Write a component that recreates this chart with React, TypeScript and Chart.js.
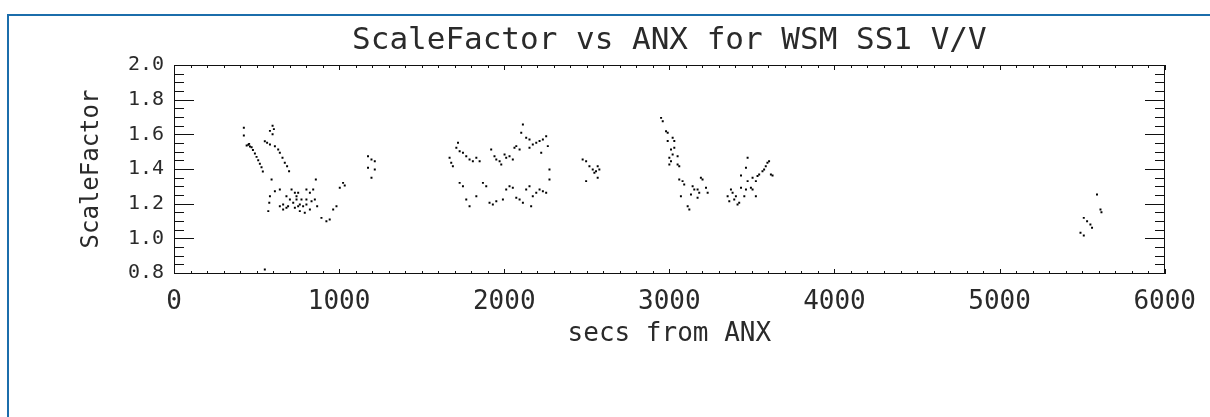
import { useEffect, useRef } from "react";
import { Chart, registerables } from "chart.js";

Chart.register(...registerables);

// ---- data (secs from ANX, ScaleFactor), grouped by pass ----
const passA_x = [423, 423, 440, 450, 460, 470, 455, 478, 490, 500, 510, 520, 530, 538, 597, 605, 581, 597, 550, 564, 581, 611, 631, 641, 657, 671, 685, 697, 591, 611, 581, 577, 571, 641, 661, 681, 702, 712, 732, 742, 752, 762, 782, 802, 823, 843, 859, 853, 867, 823, 792, 893, 923, 943, 964, 984, 1004, 1024, 1034, 661, 691, 722, 732, 762, 742, 772, 802, 833, 681, 641, 802, 752, 550];
const passA_y = [1.638, 1.593, 1.535, 1.54, 1.53, 1.525, 1.545, 1.51, 1.49, 1.47, 1.45, 1.43, 1.41, 1.385, 1.65, 1.63, 1.62, 1.6, 1.56, 1.551, 1.541, 1.531, 1.513, 1.494, 1.465, 1.436, 1.416, 1.387, 1.339, 1.272, 1.243, 1.205, 1.157, 1.185, 1.166, 1.176, 1.224, 1.282, 1.263, 1.224, 1.185, 1.157, 1.185, 1.224, 1.263, 1.282, 1.339, 1.224, 1.185, 1.166, 1.147, 1.118, 1.099, 1.109, 1.166, 1.185, 1.292, 1.32, 1.305, 1.195, 1.185, 1.205, 1.176, 1.195, 1.243, 1.224, 1.195, 1.214, 1.243, 1.282, 1.282, 1.263, 0.82];

const passB_x = [1175, 1196, 1216, 1175, 1216, 1196];
const passB_y = [1.474, 1.455, 1.445, 1.407, 1.397, 1.349];

const passC_x = [1720, 1710, 1730, 1750, 1770, 1790, 1810, 1831, 1851, 1669, 1679, 1689, 1921, 1941, 1952, 1972, 1982, 2002, 2012, 2032, 2052, 2062, 2073, 2093, 2103, 2113, 2133, 2153, 2173, 2194, 2214, 2234, 2254, 2264, 2224, 2153, 2274, 2274, 1730, 1750, 1770, 1790, 1831, 1871, 1891, 1911, 1931, 1952, 1992, 2012, 2032, 2052, 2073, 2093, 2113, 2133, 2153, 2173, 2194, 2214, 2234, 2254, 2163];
const passC_y = [1.551, 1.522, 1.503, 1.494, 1.474, 1.455, 1.445, 1.465, 1.445, 1.465, 1.436, 1.416, 1.513, 1.474, 1.455, 1.445, 1.426, 1.484, 1.465, 1.474, 1.455, 1.522, 1.532, 1.513, 1.609, 1.657, 1.58, 1.57, 1.541, 1.551, 1.561, 1.57, 1.589, 1.532, 1.494, 1.522, 1.397, 1.339, 1.32, 1.301, 1.224, 1.185, 1.243, 1.32, 1.301, 1.205, 1.195, 1.214, 1.224, 1.282, 1.301, 1.292, 1.234, 1.224, 1.205, 1.282, 1.301, 1.243, 1.263, 1.282, 1.272, 1.263, 1.185];

const passD_x = [2475, 2496, 2516, 2536, 2556, 2566, 2576, 2566, 2496, 2546];
const passD_y = [1.455, 1.445, 1.416, 1.397, 1.387, 1.416, 1.397, 1.349, 1.33, 1.378];

const passE_x = [2950, 2960, 2980, 2990, 2990, 3020, 3030, 3010, 3030, 3020, 3050, 3000, 3010, 3000, 3050, 3060, 3060, 3080, 3090, 3141, 3151, 3131, 3171, 3181, 3191, 3201, 3222, 3232, 3171, 3070, 3111, 3121];
const passE_y = [1.695, 1.676, 1.618, 1.609, 1.561, 1.58, 1.561, 1.513, 1.522, 1.484, 1.474, 1.465, 1.445, 1.426, 1.426, 1.416, 1.339, 1.33, 1.311, 1.301, 1.282, 1.253, 1.282, 1.263, 1.349, 1.339, 1.292, 1.263, 1.234, 1.243, 1.185, 1.166];

const passF_x = [3353, 3373, 3383, 3393, 3403, 3413, 3423, 3363, 3434, 3454, 3464, 3474, 3494, 3504, 3524, 3504, 3524, 3534, 3544, 3564, 3574, 3584, 3594, 3604, 3615, 3625, 3474, 3464, 3434];
const passF_y = [1.243, 1.282, 1.263, 1.224, 1.243, 1.195, 1.205, 1.214, 1.292, 1.243, 1.282, 1.33, 1.292, 1.282, 1.243, 1.349, 1.33, 1.359, 1.368, 1.387, 1.397, 1.416, 1.436, 1.445, 1.368, 1.362, 1.465, 1.407, 1.362];

const passG_x = [5590, 5611, 5617, 5510, 5530, 5550, 5560, 5490, 5510];
const passG_y = [1.253, 1.166, 1.151, 1.118, 1.099, 1.08, 1.061, 1.032, 1.016];

const X_TICKS = [0, 1000, 2000, 3000, 4000, 5000, 6000];
const Y_TICKS = [0.8, 1.0, 1.2, 1.4, 1.6, 1.8, 2.0];
const X_MINOR_PER_MAJOR = 10;
const Y_MINOR_PER_MAJOR = 4;

const TITLE = "ScaleFactor vs ANX for WSM SS1 V/V";
const X_TITLE = "secs from ANX";
const Y_TITLE = "ScaleFactor";

const FONT = '"DejaVu Sans Mono", "DejaVu Sans", monospace';
const INK = "#2a2a2a";

const xs = [...passA_x, ...passB_x, ...passC_x, ...passD_x, ...passE_x, ...passF_x, ...passG_x];
const ys = [...passA_y, ...passB_y, ...passC_y, ...passD_y, ...passE_y, ...passF_y, ...passG_y];

const idlFrame = {
  id: "idlFrame",
  beforeDraw(chart: any) {
    const ctx = chart.ctx;
    ctx.save();
    ctx.fillStyle = "#ffffff";
    ctx.fillRect(0, 0, chart.width, chart.height);
    ctx.fillStyle = "#1b6dab";
    ctx.fillRect(7, 14, chart.width - 7, 2);
    ctx.fillRect(7, 14, 2, chart.height - 14);
    ctx.restore();
  },
  afterDraw(chart: any) {
    const ctx = chart.ctx;
    const ca = chart.chartArea;
    const L = Math.round(ca.left);
    const R = Math.round(ca.right) - 1;
    const T = Math.round(ca.top);
    const B = Math.round(ca.bottom);
    const sx = chart.scales.x;
    const sy = chart.scales.y;
    ctx.save();
    ctx.fillStyle = "#111111";
    // box
    ctx.fillRect(L, T, R - L + 1, 1);
    ctx.fillRect(L, B, R - L + 1, 1);
    ctx.fillRect(L, T, 1, B - T + 1);
    ctx.fillRect(R, T, 1, B - T + 1);
    // y ticks (left and right, pointing inward)
    for (let i = 0; i < Y_TICKS.length - 1; i++) {
      const a = Y_TICKS[i];
      const b = Y_TICKS[i + 1];
      for (let k = 0; k <= Y_MINOR_PER_MAJOR; k++) {
        const v = a + ((b - a) * k) / Y_MINOR_PER_MAJOR;
        const p = Math.round(sy.getPixelForValue(v));
        const len = k === 0 || k === Y_MINOR_PER_MAJOR ? 20 : 10;
        ctx.fillRect(L, p, len, 1);
        ctx.fillRect(R - len + 1, p, len, 1);
      }
    }
    // x ticks (bottom and top, pointing inward)
    for (let i = 0; i < X_TICKS.length - 1; i++) {
      const a = X_TICKS[i];
      const b = X_TICKS[i + 1];
      for (let k = 0; k <= X_MINOR_PER_MAJOR; k++) {
        const v = a + ((b - a) * k) / X_MINOR_PER_MAJOR;
        const p = Math.round(sx.getPixelForValue(v));
        const len = k === 0 || k === X_MINOR_PER_MAJOR ? 5 : 3;
        ctx.fillRect(p, B - len + 1, 1, len);
        ctx.fillRect(p, T, 1, len);
      }
    }
    ctx.restore();
  },
};

export default function App() {
  const ref = useRef<HTMLCanvasElement | null>(null);

  useEffect(() => {
    document.body.style.margin = "0";
    const canvas = ref.current;
    if (!canvas) return;
    const points = xs.map((x, i) => ({ x, y: ys[i] }));
    const chart = new Chart(canvas, {
      type: "scatter",
      data: {
        datasets: [
          {
            label: "ScaleFactor",
            data: points,
            pointStyle: "rect",
            pointRadius: 1.4,
            pointBorderWidth: 0,
            backgroundColor: "#000000",
            borderColor: "#000000",
          },
        ],
      },
      plugins: [idlFrame],
      options: {
        animation: false,
        responsive: false,
        devicePixelRatio: 1,
        layout: { padding: { left: 0, right: 44, top: 0, bottom: 0 } },
        plugins: {
          legend: { display: false },
          tooltip: { enabled: false },
          title: {
            display: true,
            text: TITLE,
            fullSize: false,
            color: INK,
            font: { family: FONT, size: 31, weight: "normal", lineHeight: 1.2 },
            padding: { top: 22, bottom: 5.8 },
          },
        },
        scales: {
          x: {
            type: "linear",
            min: 0,
            max: 6000,
            grid: { display: false, drawTicks: false },
            border: { display: false },
            afterBuildTicks: (s: any) => {
              s.ticks = X_TICKS.map((v) => ({ value: v }));
            },
            afterFit: (s: any) => {
              s.height = 144;
            },
            ticks: {
              color: INK,
              padding: 14,
              maxRotation: 0,
              autoSkip: false,
              font: { family: FONT, size: 26, lineHeight: 1.2 },
              callback: (v: any) => String(v),
            },
            title: {
              display: true,
              text: X_TITLE,
              color: INK,
              font: { family: FONT, size: 26, lineHeight: 1.2 },
              padding: { top: 0, bottom: 67 },
            },
          },
          y: {
            type: "linear",
            min: 0.8,
            max: 2.0,
            grid: { display: false, drawTicks: false },
            border: { display: false },
            afterBuildTicks: (s: any) => {
              s.ticks = Y_TICKS.map((v) => ({ value: v }));
            },
            afterFit: (s: any) => {
              s.width = 174;
            },
            ticks: {
              color: INK,
              padding: 10,
              autoSkip: false,
              font: { family: FONT, size: 20, lineHeight: 1.2 },
              callback: (v: any) => Number(v).toFixed(1),
            },
            title: {
              display: true,
              text: Y_TITLE,
              color: INK,
              font: { family: FONT, size: 24, lineHeight: 1.2 },
              padding: { top: 77, bottom: 0 },
            },
          },
        },
      },
    });
    return () => chart.destroy();
  }, []);

  return (
    <div style={{ width: 1210, height: 417, position: "relative" }}>
      <canvas ref={ref} width={1210} height={417} style={{ display: "block" }} />
    </div>
  );
}
